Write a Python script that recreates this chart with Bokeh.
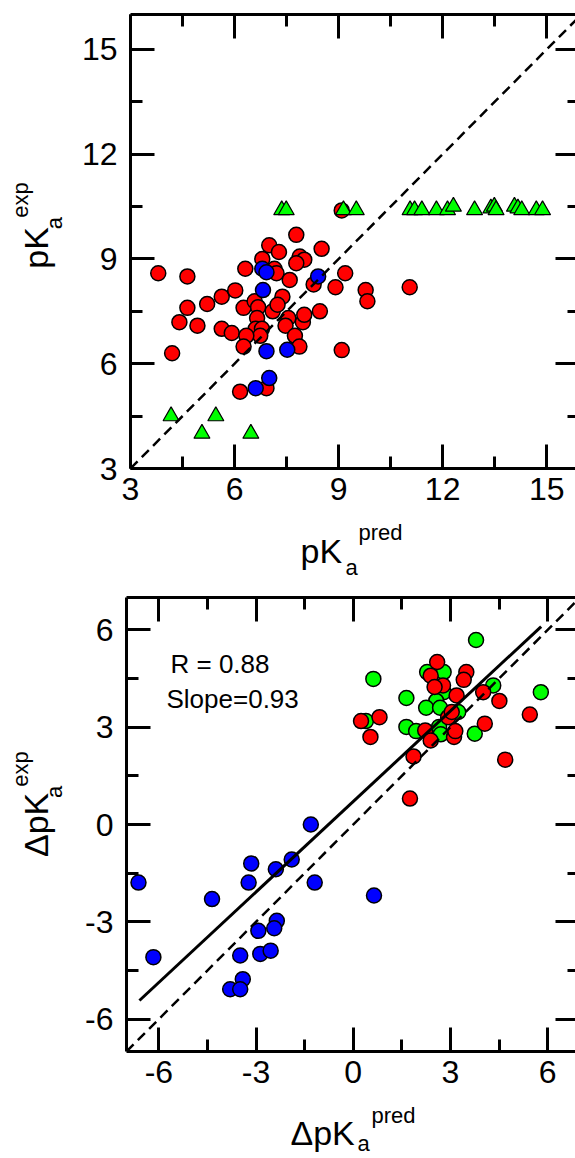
import math
from bokeh.plotting import figure
from bokeh.models import Range1d, LinearAxis, FixedTicker, Label, CustomJSTickFormatter
from bokeh.layouts import column, row
from bokeh.embed import file_html
from bokeh.resources import INLINE

FONT = "Liberation Sans"

# ---------------- data: top panel (pKa) ----------------
top_red_x = [3.80, 4.64, 6.31, 6.80, 7.00, 7.28, 7.15, 7.21, 7.78, 7.88, 8.01, 7.78, 8.51, 7.59,
             8.28, 8.91, 9.19, 9.78, 11.05, 9.09, 5.63, 6.02, 7.38, 9.83, 5.21, 4.64, 4.41, 4.93,
             5.63, 5.92, 6.26, 6.58, 6.68, 6.65, 6.61, 6.79, 6.74, 6.34, 6.26, 7.10, 7.24, 7.55,
             7.47, 7.74, 7.87, 7.97, 8.01, 8.46, 9.09, 4.20, 6.16, 6.92]
top_red_y = [8.59, 8.50, 8.72, 9.00, 9.39, 9.20, 8.72, 8.59, 9.69, 9.07, 8.98, 8.88, 9.29, 8.40,
             8.27, 8.19, 8.59, 8.11, 8.19, 10.39, 7.92, 8.10, 7.92, 7.79, 7.71, 7.60, 7.19, 7.09,
             7.00, 6.88, 7.60, 7.79, 7.62, 7.31, 7.00, 7.00, 6.80, 6.80, 6.49, 7.50, 7.69, 7.31,
             7.09, 6.80, 6.49, 7.19, 7.40, 7.50, 6.39, 6.30, 5.20, 5.30]
top_blue_x = [6.80, 6.92, 6.82, 8.41, 6.92, 7.52, 7.00, 6.61]
top_blue_y = [8.72, 8.62, 8.11, 8.50, 6.36, 6.40, 5.59, 5.30]
top_green_x = [7.36, 7.49, 9.14, 9.51, 11.06, 11.19, 11.40, 11.82, 12.14, 12.31, 12.92, 13.39,
               13.49, 13.54, 14.07, 14.17, 14.28, 14.70, 14.88, 4.17, 5.06, 5.46, 6.47]
top_green_y = [10.4, 10.4, 10.4, 10.4, 10.4, 10.4, 10.4, 10.4, 10.4, 10.5, 10.4, 10.45,
               10.5, 10.4, 10.5, 10.45, 10.4, 10.4, 10.4, 4.5, 4.0, 4.5, 4.0]
top_ticks = [3, 6, 9, 12, 15]
top_minor = [4.5, 7.5, 10.5, 13.5]

# ---------------- data: bottom panel (delta pKa) ----------------
bot_green_x = [3.79, 0.62, 1.64, 2.28, 2.79, 2.79, 2.56, 2.25, 2.68, 5.79, 4.32, 0.39, 1.64,
               1.94, 2.65, 2.70, 3.24, 3.75]
bot_green_y = [5.69, 4.49, 3.90, 4.70, 4.70, 4.08, 3.81, 3.60, 3.60, 4.08, 4.29, 3.19, 3.01,
               2.88, 3.01, 2.78, 3.47, 2.80]
bot_red_x = [2.59, 2.39, 2.77, 2.51, 3.49, 3.41, 3.19, 4.01, 4.51, 2.93, 3.04, 2.22, 2.39,
             3.11, 3.15, 4.06, 5.45, 4.69, 1.86, 1.75, 0.24, 0.81, 0.53]
bot_red_y = [5.01, 4.59, 4.29, 4.24, 4.70, 4.46, 3.98, 4.08, 3.81, 3.31, 3.47, 2.90, 2.59,
             2.70, 2.88, 3.11, 3.39, 2.00, 2.10, 0.80, 3.19, 3.31, 2.70]
bot_blue_x = [-1.31, -3.15, -2.39, -1.90, -6.63, -4.36, -3.23, -1.19, 0.64, -6.17, -2.93,
              -2.36, -2.44, -3.49, -2.87, -2.55, -3.41, -3.80, -3.49]
bot_blue_y = [0.00, -1.20, -1.38, -1.08, -1.79, -2.30, -1.79, -1.79, -2.19, -4.09, -3.28,
              -2.97, -3.20, -4.04, -3.99, -3.89, -4.77, -5.08, -5.08]
fit_slope = 0.93
fit_intercept = 0.71
fit_x = [-6.6, 5.8]
bot_ticks = [-6, -3, 0, 3, 6]
bot_minor = [-4.5, -1.5, 1.5, 4.5]
stats_text = ["R = 0.88", "Slope=0.93"]

RED = "#ff0000"
BLUE = "#0000ff"
GREEN = "#00ff00"

PAGE_W = 575
YLAB_W = 78
MID = 0.347  # distance (in em) from the middle anchor to the baseline


def make_axis(ticks, minor, show_labels, standoff, line_visible=True, tin=24, min_in=12):
    ax = LinearAxis(ticker=FixedTicker(ticks=ticks, minor_ticks=minor))
    ax.major_tick_in = tin
    ax.major_tick_out = 0
    ax.minor_tick_in = min_in
    ax.minor_tick_out = 0
    ax.axis_line_width = 3
    ax.major_tick_line_width = 3
    ax.minor_tick_line_width = 3
    ax.axis_line_color = "black" if line_visible else None
    ax.major_label_text_font = FONT
    ax.major_label_text_color = "black"
    if show_labels:
        ax.formatter = CustomJSTickFormatter(code="return tick.toFixed(0)")
        ax.major_label_text_font_size = "32px"
        ax.major_label_standoff = standoff
    else:
        ax.formatter = CustomJSTickFormatter(code="return ''")
        ax.major_label_text_font_size = "1px"
        ax.major_label_standoff = 0
    return ax


def make_fig(xr, yr, ticks, minor, height, btop, bbot):
    p = figure(width=PAGE_W - YLAB_W, height=height, x_range=Range1d(*xr), y_range=Range1d(*yr),
               output_backend="svg", toolbar_location=None,
               x_axis_location=None, y_axis_location=None,
               min_border_left=126 - YLAB_W, min_border_right=0,
               min_border_top=btop, min_border_bottom=bbot)
    p.outline_line_color = None
    p.grid.visible = False
    p.background_fill_color = "white"
    p.border_fill_color = "white"
    p.add_layout(make_axis(ticks, minor, True, 9), "below")
    p.add_layout(make_axis(ticks, minor, True, 13), "left")
    p.add_layout(make_axis(ticks, minor, False, 0), "above")
    p.add_layout(make_axis(ticks, minor, False, 0, line_visible=False, tin=20, min_in=8), "right")
    return p


def text_fig(w, h):
    f = figure(width=w, height=h, x_range=Range1d(0, w), y_range=Range1d(0, h),
               output_backend="svg", toolbar_location=None,
               x_axis_location=None, y_axis_location=None,
               min_border=0, min_border_left=0, min_border_right=0,
               min_border_top=0, min_border_bottom=0)
    f.outline_line_color = None
    f.grid.visible = False
    f.background_fill_color = "white"
    f.border_fill_color = "white"
    return f


def add_label(p, x, y, text, size, xo=0, yo=0, angle=0.0):
    """x, y: start of the text on its baseline; the anchor is moved to the text middle."""
    fs = float(size.replace("px", ""))
    if angle:
        xo -= MID * fs
    else:
        yo += MID * fs
    p.add_layout(Label(x=x, y=y, text=text, x_offset=xo, y_offset=yo, angle=angle,
                       text_font=FONT, text_font_size=size, text_color="black",
                       text_align="left", text_baseline="middle"))


# ---------------- top panel ----------------
P1_H = 518
p1 = make_fig((3, 15.83), (3, 16), top_ticks, top_minor, P1_H, 14, 50)
p1.scatter(top_red_x, top_red_y, marker="circle", size=15, fill_color=RED,
           line_color="black", line_width=1.5)
p1.scatter(top_blue_x, top_blue_y, marker="circle", size=15, fill_color=BLUE,
           line_color="black", line_width=1.5)
p1.scatter(top_green_x, top_green_y, marker="triangle", size=16, fill_color=GREEN,
           line_color="black", line_width=1.2)
p1.line([3, 16], [3, 16], line_color="black", line_width=2.5, line_dash="10 6")

yl1 = text_fig(YLAB_W, P1_H)
add_label(yl1, 47, 228, "pK", "34px", angle=math.pi / 2)
add_label(yl1, 62, 273, "a", "22px", angle=math.pi / 2)
add_label(yl1, 28, 286, "exp", "22px", angle=math.pi / 2)

XL1_H = 67
xl1 = text_fig(PAGE_W, XL1_H)
add_label(xl1, 300, 23, "pK", "34px")
add_label(xl1, 345, 10, "a", "22px")
add_label(xl1, 358, 45, "pred", "22px")

# ---------------- bottom panel ----------------
P2_H = 516
p2 = make_fig((-7, 6.86), (-7, 7), bot_ticks, bot_minor, P2_H, 12, 50)
p2.scatter(bot_blue_x, bot_blue_y, marker="circle", size=15, fill_color=BLUE,
           line_color="black", line_width=1.5)
p2.scatter(bot_green_x, bot_green_y, marker="circle", size=15, fill_color=GREEN,
           line_color="black", line_width=1.5)
p2.scatter(bot_red_x, bot_red_y, marker="circle", size=15, fill_color=RED,
           line_color="black", line_width=1.5)
p2.line([-7, 7], [-7, 7], line_color="black", line_width=2.5, line_dash="10 6")
p2.line(fit_x, [fit_slope * v + fit_intercept for v in fit_x], line_color="black", line_width=3)

add_label(p2, -7, 7, stats_text[0], "26px", 44, -76)
add_label(p2, -7, 7, stats_text[1], "26px", 40, -111)

yl2 = text_fig(YLAB_W, P2_H)
add_label(yl2, 47, 221, "ΔpK", "34px", angle=math.pi / 2)
add_label(yl2, 62, 288, "a", "22px", angle=math.pi / 2)
add_label(yl2, 28, 301, "exp", "22px", angle=math.pi / 2)

XL2_H = 57
xl2 = text_fig(PAGE_W, XL2_H)
add_label(xl2, 290, 14, "ΔpK", "34px")
add_label(xl2, 357, 7, "a", "22px")
add_label(xl2, 371, 35, "pred", "22px")

layout = column(row(yl1, p1, spacing=0), xl1, row(yl2, p2, spacing=0), xl2, spacing=0)
open("out.html", "w").write(file_html(layout, INLINE))
